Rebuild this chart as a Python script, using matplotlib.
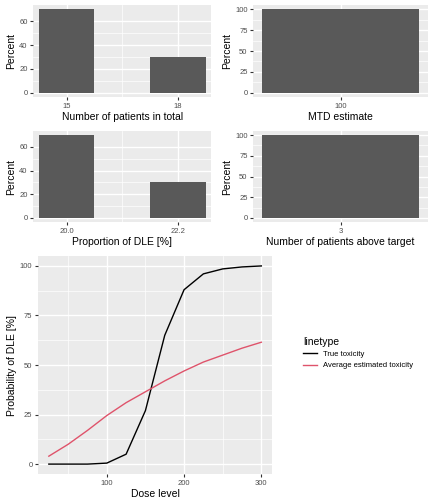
import matplotlib.pyplot as plt
from matplotlib.lines import Line2D

plt.rcParams['font.family'] = ['Liberation Sans', 'DejaVu Sans']

# Daten
n_patients = [15, 18]
n_patients_pct = [70, 30]
mtd = [100]
mtd_pct = [100]
prop_dle = [20.0, 22.2]
prop_dle_pct = [70, 30]
above_target = [3]
above_target_pct = [100]

dose = [25, 50, 75, 100, 125, 150, 175, 200, 225, 250, 275, 300]
true_tox = [0, 0, 0, 0.5, 5, 27, 65, 88, 96, 98.5, 99.5, 100]
est_tox = [4, 10, 17, 24.5, 31, 36.5, 42, 47, 51.5, 55, 58.5, 61.5]

BG = "#EBEBEB"
GREY = "#4D4D4D"
LAB = 7.5
TICK = 5.5


def style(ax):
    ax.set_facecolor(BG)
    for s in ax.spines.values():
        s.set_visible(False)
    ax.grid(True, which="major", color="white", linewidth=1.0)
    ax.grid(True, which="minor", color="white", linewidth=0.5)
    ax.set_axisbelow(True)
    ax.tick_params(which="major", colors="#333333", labelcolor=GREY, labelsize=TICK,
                   length=2.5, pad=1.5)
    ax.tick_params(which="minor", length=0)


def bar_panel(rect, x, y, xlabel, xticklabels, yticks):
    ax = fig.add_axes(rect)
    style(ax)
    pos = list(range(len(x)))
    if len(x) == 2:
        ax.bar(pos, y, width=0.5, color="#595959")
        ax.set_xlim(-0.3, 1.3)
        ax.set_xticks([0.5], minor=True)
    else:
        ax.bar(pos, y, width=0.9, color="#595959")
        ax.set_xlim(-0.5, 0.5)
    ax.set_xticks(pos)
    ax.set_xticklabels(xticklabels)
    ax.set_yticks(yticks)
    ax.set_yticks([(a + b) / 2 for a, b in zip(yticks[:-1], yticks[1:])], minor=True)
    top = max(y)
    ax.set_ylim(-top * 0.05, top * 1.05)
    ax.set_xlabel(xlabel, fontsize=LAB, labelpad=2)
    ax.set_ylabel("Percent", fontsize=LAB, labelpad=2)
    return ax


fig = plt.figure(figsize=(4.32, 5.04), dpi=100)

bar_panel([0.077, 0.8075, 0.412, 0.1825], n_patients, n_patients_pct,
          "Number of patients in total", ["15", "18"], [0, 20, 40, 60])
bar_panel([0.586, 0.8075, 0.405, 0.1825], mtd, mtd_pct,
          "MTD estimate", ["100"], [0, 25, 50, 75, 100])
bar_panel([0.077, 0.5595, 0.412, 0.1806], prop_dle, prop_dle_pct,
          "Proportion of DLE [%]", ["20.0", "22.2"], [0, 20, 40, 60])
bar_panel([0.586, 0.5595, 0.405, 0.1806], above_target, above_target_pct,
          "Number of patients above target", ["3"], [0, 25, 50, 75, 100])

ax = fig.add_axes([0.088, 0.0595, 0.542, 0.4325])
style(ax)
ax.plot(dose, true_tox, color="black", linewidth=1.0)
ax.plot(dose, est_tox, color="#DF536B", linewidth=1.0)
ax.set_xlim(11, 314)
ax.set_ylim(-5, 105)
ax.set_xticks([100, 200, 300])
ax.set_xticks([50, 150, 250], minor=True)
ax.set_yticks([0, 25, 50, 75, 100])
ax.set_yticks([12.5, 37.5, 62.5, 87.5], minor=True)
ax.set_xlabel("Dose level", fontsize=LAB, labelpad=2)
ax.set_ylabel("Probability of DLE [%]", fontsize=LAB, labelpad=2)

handles = [Line2D([], [], color="black", linewidth=1.0),
           Line2D([], [], color="#DF536B", linewidth=1.0)]
leg = fig.legend(handles, ["True toxicity", "Average estimated toxicity"],
                 title="linetype", loc="upper left", bbox_to_anchor=(0.685, 0.345),
                 frameon=False, fontsize=TICK, title_fontsize=LAB, handlelength=1.8,
                 alignment="left")

fig.savefig("out.png", dpi=100)
